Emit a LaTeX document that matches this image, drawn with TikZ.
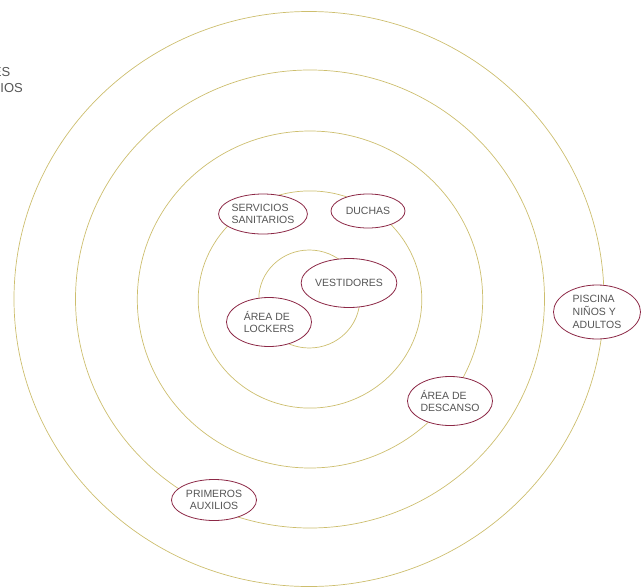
\documentclass[tikz,border=0pt]{standalone}
\usepackage{fontspec}
\setmainfont{Liberation Sans}
\usetikzlibrary{shapes.geometric}
\definecolor{anillo}{RGB}{205,190,110}
\definecolor{borde}{RGB}{140,40,70}
\definecolor{letra}{RGB}{85,85,85}

\begin{document}
\begin{tikzpicture}[x=1pt,y=-1pt,
  zona/.style={draw=borde, line width=0.8pt, ellipse, inner sep=0pt,
    minimum width=85pt, minimum height=49pt, align=left, text=letra,
    font=\fontsize{10.5}{12.7}\selectfont}]

\useasboundingbox (0,0) rectangle (641,587);

% anillos
\draw[anillo, line width=0.7pt] (309,299) ellipse (295 and 287.5);
\draw[anillo, line width=0.7pt] (310,299) ellipse (234.5 and 229);
\draw[anillo, line width=0.7pt] (310,299.5) ellipse (172.7 and 168.5);
\draw[anillo, line width=0.7pt] (310,299.5) ellipse (111.8 and 108.6);
\draw[anillo, line width=0.7pt] (309.3,299) ellipse (50.5 and 49);

% texto cortado en el borde
\node[anchor=base east, inner sep=0pt, text=letra, font=\fontsize{13}{15}\selectfont] (cortea) at (10.5,76) {ES};
\node[anchor=base east, inner sep=0pt, text=letra, font=\fontsize{13}{15}\selectfont] (corteb) at (23,92.5) {IOS};

% zonas
\node[zona, fill=white, minimum height=40pt] (servicios) at (263,214) {SERVICIOS\\SANITARIOS};
\node[zona, fill=white, minimum width=74pt, minimum height=34pt] (duchas) at (368,211) {DUCHAS};
\node[zona, fill=white] (vestidores) at (349,283) {VESTIDORES};
\node[zona, fill=white] (lockers) at (269,322) {ÁREA DE\\LOCKERS};
\node[zona, fill=white] (descanso) at (450,401) {ÁREA DE\\DESCANSO};
\node[zona, fill=white, minimum width=87pt, minimum height=54pt] (piscina) at (597,312) {PISCINA\\NIÑOS Y\\ADULTOS};
\node[zona, fill=white, minimum height=41pt, align=center] (auxilios) at (214,500) {PRIMEROS\\AUXILIOS};

\end{tikzpicture}
\end{document}
